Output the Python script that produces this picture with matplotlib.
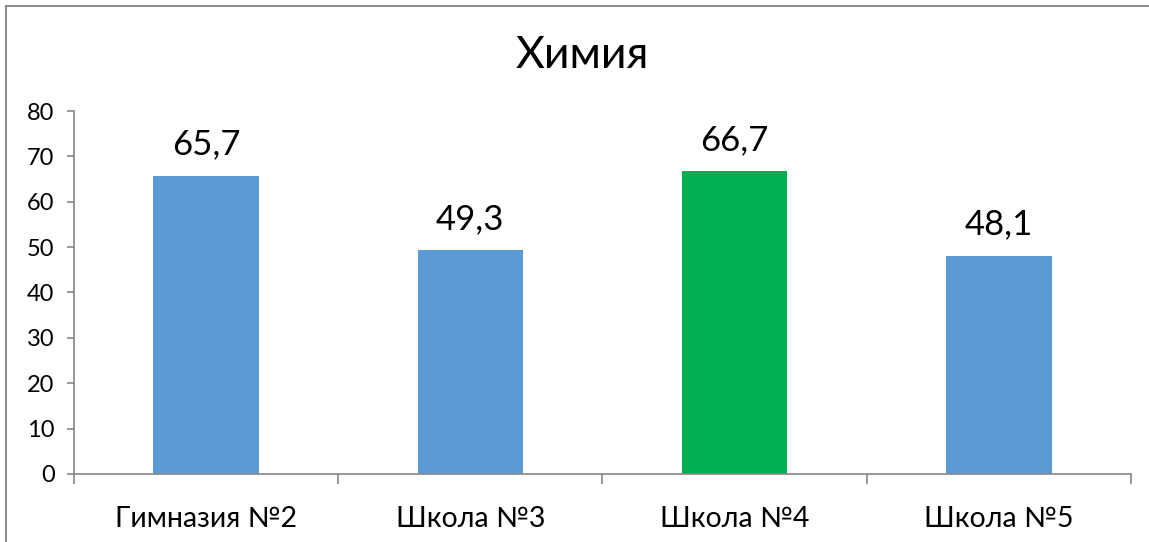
import matplotlib
matplotlib.use('Agg')
import matplotlib.pyplot as plt
from matplotlib.lines import Line2D

plt.rcParams['font.family'] = ['Lato', 'DejaVu Sans']

# данные
schools = ['Гимназия №2', 'Школа №3', 'Школа №4', 'Школа №5']
values = [65.7, 49.3, 66.7, 48.1]
colors = ['#5B9BD5', '#5B9BD5', '#00B050', '#5B9BD5']
y_ticks = [0, 10, 20, 30, 40, 50, 60, 70, 80]

fig = plt.figure(figsize=(11.49, 5.42), dpi=100)
ax = fig.add_axes([0.0644, 0.1255, 0.9199, 0.6697])

x = range(len(schools))
bars = ax.bar(x, values, width=0.4, color=colors)

# подписи значений
for b, v in zip(bars, values):
    ax.annotate(str(v).replace('.', ','), (b.get_x() + b.get_width() / 2, v),
                xytext=(0, 11), textcoords='offset points',
                ha='center', va='bottom', fontsize=25, color='black')

ax.set_xlim(-0.5, len(schools) - 0.5)
ax.set_ylim(0, 80)
ax.set_yticks(y_ticks)
ax.set_xticks(list(x))
ax.set_xticklabels(schools, fontsize=20.5)
ax.set_xticks([i - 0.5 for i in range(len(schools) + 1)], minor=True)

axis_color = '#868686'
for s in ['top', 'right']:
    ax.spines[s].set_visible(False)
for s in ['left', 'bottom']:
    ax.spines[s].set_color(axis_color)
    ax.spines[s].set_linewidth(1.2)

ax.tick_params(axis='y', length=5, width=1.2, color=axis_color, labelsize=17, pad=9)
ax.tick_params(axis='x', which='major', length=0, pad=23)
ax.tick_params(axis='x', which='minor', length=7, width=1.2, color=axis_color)

fig.text(0.507, 0.898, 'Химия', ha='center', va='center', fontsize=32)

# рамка диаграммы
fig.add_artist(Line2D([6 / 1149, 1], [1 - 6 / 542, 1 - 6 / 542], color='#8c8c8c', lw=1.5))
fig.add_artist(Line2D([6 / 1149, 6 / 1149], [0, 1 - 6 / 542], color='#8c8c8c', lw=1.5))

fig.savefig('out.png', dpi=100)
